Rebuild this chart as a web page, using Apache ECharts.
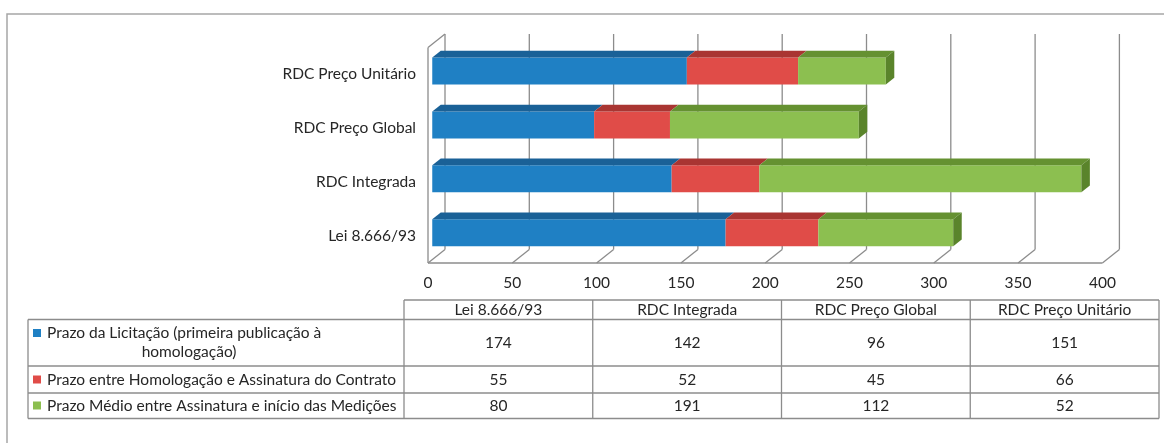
<!DOCTYPE html>
<html>
<head>
<meta charset="utf-8">
<style>
  html, body { margin: 0; padding: 0; background: #ffffff; }
  #chart { width: 1164px; height: 443px; }
</style>
<script src="https://cdn.jsdelivr.net/npm/echarts@6/dist/echarts.min.js"></script>
</head>
<body>
<div id="chart"></div>
<script>
// Categories, bottom to top on the chart (left to right in the table)
const categories = ['Lei 8.666/93', 'RDC Integrada', 'RDC Preço Global', 'RDC Preço Unitário'];

// Series names
const seriesNames = [
  'Prazo da Licitação (primeira publicação à homologação)',
  'Prazo entre Homologação e Assinatura do Contrato',
  'Prazo Médio entre Assinatura e início das Medições'
];

// Days per stage
const prazoLicitacao = [174, 142, 96, 151];
const prazoHomologacao = [55, 52, 45, 66];
const prazoAssinatura = [80, 191, 112, 52];

// Value axis ticks
const axisTicks = [0, 50, 100, 150, 200, 250, 300, 350, 400];

const seriesValues = [prazoLicitacao, prazoHomologacao, prazoAssinatura];

// Face colours: [front, top, side]
const palette = [
  ['#1f80c4', '#1a6197', '#175887'],
  ['#e04c48', '#a93532', '#983030'],
  ['#8cbf50', '#659131', '#5a842b']
];

const FONT = 'Lato';
const FS = 15.5;
const TEXT = '#262626';
const LINE = '#8c8c8c';

// Depth of the 3D box (front plane -> back wall)
const DX = 17, DY = -13.5;

// Stacked segments: [start, end, categoryIndex, isLast]
function segments(si) {
  return categories.map((c, ci) => {
    let start = 0;
    for (let k = 0; k < si; k++) start += seriesValues[k][ci];
    const end = start + seriesValues[si][ci];
    return [start, end, ci, si === seriesValues.length - 1 ? 1 : 0];
  });
}

function renderBar(si) {
  return function (params, api) {
    const s = api.value(0), e = api.value(1), c = api.value(2), last = api.value(3);
    const p0 = api.coord([s, c]);
    const p1 = api.coord([e, c]);
    const h = api.size([0, 1])[1] * 0.5;
    const x0 = p0[0] + 0.25 * DX;
    const x1 = p1[0] + 0.25 * DX;
    const yc = p0[1] + 0.25 * DY;
    const top = yc - h / 2, bot = yc + h / 2;
    const dx = 0.5 * DX, dy = 0.5 * DY;
    const col = palette[si];
    const children = [
      { type: 'rect', shape: { x: x0, y: top, width: x1 - x0, height: h },
        style: { fill: col[0] } },
      { type: 'polygon', shape: { points: [[x0, top], [x1, top], [x1 + dx, top + dy], [x0 + dx, top + dy]] },
        style: { fill: col[1] } }
    ];
    if (last) {
      children.push({ type: 'polygon',
        shape: { points: [[x1, top], [x1 + dx, top + dy], [x1 + dx, bot + dy], [x1, bot]] },
        style: { fill: col[2] } });
    }
    return { type: 'group', children: children };
  };
}

// Back wall gridlines, floor ticks and left wall
function renderWall(params, api) {
  const v = api.value(0);
  const cs = params.coordSys;
  const px = api.coord([v, 0])[0];
  const top = cs.y, bottom = cs.y + cs.height;
  const ls = { stroke: LINE, lineWidth: 1.3, fill: null };
  const children = [
    { type: 'line', shape: { x1: px + DX, y1: top + DY, x2: px + DX, y2: bottom + DY }, style: ls },
    { type: 'line', shape: { x1: px, y1: bottom, x2: px + DX, y2: bottom + DY }, style: ls }
  ];
  if (v === axisTicks[0]) {
    children.push(
      { type: 'line', shape: { x1: px, y1: top, x2: px, y2: bottom }, style: ls },
      { type: 'line', shape: { x1: px, y1: top, x2: px + DX, y2: top + DY }, style: ls },
      { type: 'line', shape: { x1: px, y1: bottom, x2: cs.x + cs.width, y2: bottom }, style: ls }
    );
  }
  return { type: 'group', children: children };
}

// Data table below the chart
const tbl = {
  left: 28, colX: 404, colW: 188.75,
  rows: [300, 319.5, 366, 393, 418.5]
};

function buildTable() {
  const g = [];
  const ls = { stroke: LINE, lineWidth: 1.3 };
  const right = tbl.colX + tbl.colW * categories.length;
  const r = tbl.rows;
  const font = FS + 'px ' + FONT;
  // horizontal lines
  g.push({ type: 'line', shape: { x1: tbl.colX, y1: r[0], x2: right, y2: r[0] }, style: ls });
  for (let i = 1; i < r.length; i++) {
    g.push({ type: 'line', shape: { x1: tbl.left, y1: r[i], x2: right, y2: r[i] }, style: ls });
  }
  // vertical lines
  g.push({ type: 'line', shape: { x1: tbl.left, y1: r[1], x2: tbl.left, y2: r[4] }, style: ls });
  for (let c = 0; c <= categories.length; c++) {
    const x = tbl.colX + c * tbl.colW;
    g.push({ type: 'line', shape: { x1: x, y1: r[0], x2: x, y2: r[4] }, style: ls });
  }
  // header
  categories.forEach((name, c) => {
    g.push({ type: 'text', x: tbl.colX + (c + 0.5) * tbl.colW, y: (r[0] + r[1]) / 2,
      style: { text: name, fill: TEXT, font: font, align: 'center', verticalAlign: 'middle' } });
  });
  // values
  seriesValues.forEach((vals, si) => {
    const yc = (r[si + 1] + r[si + 2]) / 2;
    vals.forEach((v, c) => {
      g.push({ type: 'text', x: tbl.colX + (c + 0.5) * tbl.colW, y: yc,
        style: { text: String(v), fill: TEXT, font: font, align: 'center', verticalAlign: 'middle' } });
    });
  });
  // row labels with legend keys
  const lineY = [[333, 352], [379.5], [405.5]];
  const firstLine = ['Prazo da Licitação (primeira publicação à', seriesNames[1], seriesNames[2]];
  seriesValues.forEach((vals, si) => {
    const y = lineY[si][0];
    g.push({ type: 'rect', shape: { x: 33, y: y - 4, width: 8, height: 8 }, style: { fill: palette[si][0] } });
    g.push({ type: 'text', x: 47, y: y,
      style: { text: firstLine[si], fill: TEXT, font: font, align: 'left', verticalAlign: 'middle' } });
  });
  g.push({ type: 'text', x: 189, y: lineY[0][1],
    style: { text: 'homologação)', fill: TEXT, font: font, align: 'center', verticalAlign: 'middle' } });
  // outer frame
  g.push({ type: 'rect', shape: { x: 7, y: 14, width: 1180, height: 460 },
    style: { fill: null, stroke: '#a6a6a6', lineWidth: 1.5 }, z: -1 });
  return g;
}

const chart = echarts.init(document.getElementById('chart'));
chart.setOption({
  animation: false,
  grid: { left: 428, top: 47.5, width: 674.4, height: 215.5 },
  xAxis: {
    type: 'value', min: axisTicks[0], max: axisTicks[axisTicks.length - 1],
    interval: axisTicks[1] - axisTicks[0],
    axisLine: { show: false }, axisTick: { show: false }, splitLine: { show: false },
    axisLabel: { color: TEXT, fontFamily: FONT, fontSize: 15.5, margin: 12 }
  },
  yAxis: {
    type: 'category', data: categories,
    axisLine: { show: false }, axisTick: { show: false }, splitLine: { show: false },
    axisLabel: { color: TEXT, fontFamily: FONT, fontSize: FS, margin: 12 }
  },
  series: [
    { type: 'custom', name: 'wall', z: 1, silent: true,
      data: axisTicks.map(v => [v]), encode: { x: 0 }, renderItem: renderWall },
    ...seriesNames.map((name, si) => ({
      type: 'custom', name: name, z: 2 + si,
      data: segments(si), encode: { x: [0, 1], y: 2 }, renderItem: renderBar(si)
    }))
  ],
  graphic: buildTable()
});
</script>
</body>
</html>
